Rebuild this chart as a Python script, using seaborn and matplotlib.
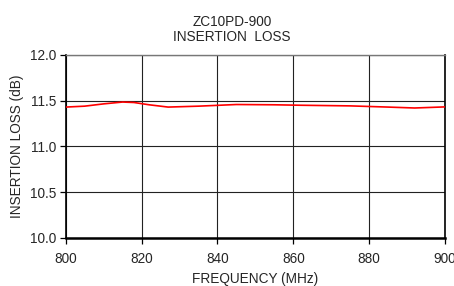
import matplotlib
matplotlib.use("Agg")
import matplotlib.pyplot as plt
import seaborn as sns
import pandas as pd

# insertion loss
freq_mhz = [800, 805, 810, 815, 818, 822, 827, 835, 845, 855, 862, 875, 885, 892, 900]
loss_db = [11.43, 11.44, 11.465, 11.485, 11.48, 11.455, 11.43, 11.44, 11.458, 11.455,
           11.45, 11.443, 11.43, 11.42, 11.432]
x_ticks = [800, 820, 840, 860, 880, 900]
y_ticks = [10.0, 10.5, 11.0, 11.5, 12.0]

sns.set_style("white")
plt.rcParams['font.family'] = ['Liberation Sans', 'DejaVu Sans']

df = pd.DataFrame({'freq': freq_mhz, 'loss': loss_db})

fig = plt.figure(figsize=(4.54, 2.86), dpi=100)
ax = fig.add_axes([0.1447, 0.168, 0.8355, 0.640])

sns.lineplot(data=df, x='freq', y='loss', ax=ax, color='red', linewidth=1.2, zorder=3)

ax.set_xlim(800, 900)
ax.set_ylim(10.0, 12.0)
ax.set_xticks(x_ticks)
ax.set_yticks(y_ticks)
ax.set_xticklabels([str(v) for v in x_ticks])
ax.set_yticklabels([f"{v:.1f}" for v in y_ticks])
ax.grid(True, color='#222222', linewidth=0.8)
ax.tick_params(axis='both', labelsize=9.8, length=4, width=0.9, direction='out',
               color='black', left=True, bottom=True)
ax.tick_params(axis='x', pad=6)
ax.tick_params(axis='y', pad=3)

for side in ['left', 'right', 'bottom']:
    ax.spines[side].set_color('black')
ax.spines['left'].set_linewidth(1.2)
ax.spines['right'].set_linewidth(1.2)
ax.spines['bottom'].set_linewidth(1.8)
ax.spines['top'].set_color('#777777')
ax.spines['top'].set_linewidth(1.0)

ax.set_xlabel('FREQUENCY (MHz)', fontsize=9.8, labelpad=4.5)
ax.set_ylabel('INSERTION LOSS (dB)', fontsize=9.8, labelpad=4)

fig.text(0.511, 0.923, 'ZC10PD-900', ha='center', va='center', fontsize=9.8)
fig.text(0.511, 0.872, 'INSERTION  LOSS', ha='center', va='center', fontsize=9.8)

fig.savefig('out.png', dpi=100)
